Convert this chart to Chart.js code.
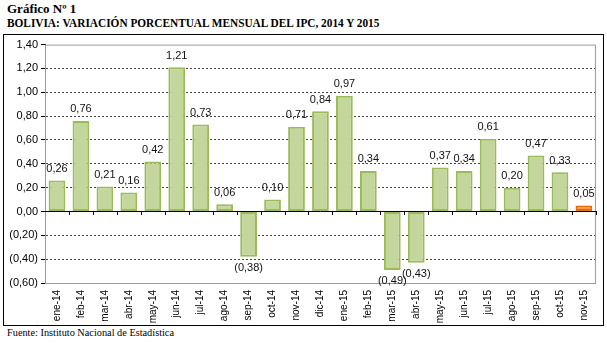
<!DOCTYPE html>
<html>
<head>
<meta charset="utf-8">
<script src="https://cdn.jsdelivr.net/npm/chart.js@4"></script>
<style>
  body { margin: 0; background: #fff; width: 607px; height: 345px; position: relative; overflow: hidden; }
  .title { position: absolute; left: 7px; font-family: "Liberation Serif", serif; font-weight: bold; color: #000; white-space: nowrap; transform-origin: left top; }
  #t1 { top: 1px; font-size: 13px; }
  #t2 { top: 15px; font-size: 13px; transform: scaleX(0.87); }
  #frame { position: absolute; left: 3px; top: 34px; width: 601px; height: 292px; border: 1px solid #000; box-sizing: border-box; }
  #wrap { position: absolute; left: 0; top: 0; width: 599px; height: 290px; }
  #src { position: absolute; left: 7px; top: 327px; font-family: "Liberation Serif", serif; font-size: 10.3px; color: #000; }
</style>
</head>
<body>
<div class="title" id="t1">Gráfico Nº 1</div>
<div class="title" id="t2">BOLIVIA: VARIACIÓN PORCENTUAL MENSUAL DEL IPC, 2014 Y 2015</div>
<div id="frame"><div id="wrap"><canvas id="ipcChart"></canvas></div></div>
<div id="src">Fuente: Instituto Nacional de Estadística</div>

<script>
// Months (categories)
var months = ['ene-14', 'feb-14', 'mar-14', 'abr-14', 'may-14', 'jun-14', 'jul-14', 'ago-14', 'sep-14', 'oct-14', 'nov-14', 'dic-14',
              'ene-15', 'feb-15', 'mar-15', 'abr-15', 'may-15', 'jun-15', 'jul-15', 'ago-15', 'sep-15', 'oct-15', 'nov-15'];
// Monthly IPC variation (%)
var ipcValues = [0.26, 0.76, 0.21, 0.16, 0.42, 1.21, 0.73, 0.06, -0.38, 0.10, 0.71, 0.84,
                 0.97, 0.34, -0.49, -0.43, 0.37, 0.34, 0.61, 0.20, 0.47, 0.33, 0.05];
// Y axis range
var yMin = -0.6;
var yMax = 1.4;
var yStep = 0.2;

function fmt(v) {
    var s = Math.abs(v).toFixed(2).replace('.', ',');
    return v < 0 ? '(' + s + ')' : s;
}

var lastIdx = ipcValues.length - 1;
var fills = ipcValues.map(function(v, i) { return i === lastIdx ? '#f79646' : '#c3d69b'; });
var borders = ipcValues.map(function(v, i) { return i === lastIdx ? '#e46c0a' : '#9bbb59'; });

// plot frame, zero line and category ticks
var framePlugin = {
    id: 'framePlugin',
    beforeDatasetsDraw: function(chart) {
        var ctx = chart.ctx, a = chart.chartArea;
        var y0 = chart.scales.y.getPixelForValue(0);
        ctx.save();
        ctx.strokeStyle = '#999';
        ctx.lineWidth = 1;
        ctx.strokeRect(a.left + 0.5, a.top + 0.5, a.right - a.left - 1, a.bottom - a.top);
        ctx.strokeStyle = '#000';
        ctx.beginPath();
        ctx.moveTo(a.left, Math.round(y0) + 0.5);
        ctx.lineTo(a.right, Math.round(y0) + 0.5);
        var n = months.length, w = (a.right - a.left) / n;
        for (var i = 1; i <= n; i++) {
            var x = Math.round(a.left + i * w) + 0.5;
            ctx.moveTo(x, Math.round(y0));
            ctx.lineTo(x, Math.round(y0) + 4);
        }
        ctx.stroke();
        ctx.restore();
    }
};

// value labels above / below bars
var labelPlugin = {
    id: 'labelPlugin',
    afterDatasetsDraw: function(chart) {
        var ctx = chart.ctx;
        var meta = chart.getDatasetMeta(0);
        ctx.save();
        ctx.font = '11px "Liberation Sans", Arial, sans-serif';
        ctx.fillStyle = '#111';
        ctx.textAlign = 'center';
        meta.data.forEach(function(bar, i) {
            var v = ipcValues[i];
            if (v >= 0) {
                ctx.textBaseline = 'bottom';
                ctx.fillText(fmt(v), bar.x, bar.y - 6);
            } else {
                ctx.textBaseline = 'top';
                ctx.fillText(fmt(v), bar.x, bar.y + 6);
            }
        });
        ctx.restore();
    }
};

document.addEventListener('DOMContentLoaded', function() {
    var ctx = document.getElementById('ipcChart').getContext('2d');
    var ipcChart = new Chart(ctx, {
        type: 'bar',
        data: {
            labels: months,
            datasets: [{
                label: 'IPC',
                data: ipcValues,
                backgroundColor: fills,
                borderColor: borders,
                borderWidth: 2,
                borderSkipped: false,
                categoryPercentage: 1.0,
                barPercentage: 0.7
            }]
        },
        options: {
            responsive: true,
            maintainAspectRatio: false,
            animation: false,
            layout: { padding: { top: 8, right: 3, left: 0, bottom: 0 } },
            plugins: {
                legend: { display: false },
                tooltip: { enabled: false }
            },
            scales: {
                x: {
                    grid: { display: false, drawTicks: false },
                    border: { display: false },
                    ticks: {
                        minRotation: 90,
                        maxRotation: 90,
                        autoSkip: false,
                        padding: 7,
                        color: '#000',
                        font: { family: '"Liberation Sans", Arial, sans-serif', size: 10 }
                    },
                    afterFit: function(scale) { scale.height = 42; }
                },
                y: {
                    min: yMin,
                    max: yMax,
                    ticks: {
                        stepSize: yStep,
                        padding: 3,
                        color: '#000',
                        font: { family: '"Liberation Sans", Arial, sans-serif', size: 11 },
                        callback: function(v) { return fmt(v); }
                    },
                    grid: {
                        color: function(c) {
                            var v = c.tick ? c.tick.value : 0;
                            if (Math.abs(v) < 1e-9 || v <= yMin + 1e-9 || v >= yMax - 1e-9) return 'rgba(0,0,0,0)';
                            return '#444';
                        },
                        tickColor: '#000',
                        tickLength: 4,
                        tickBorderDash: []
                    },
                    border: { display: true, color: '#000', dash: [2, 2] },
                    afterFit: function(scale) { scale.width = 41; }
                }
            }
        },
        plugins: [framePlugin, labelPlugin]
    });
});
</script>
</body>
</html>
